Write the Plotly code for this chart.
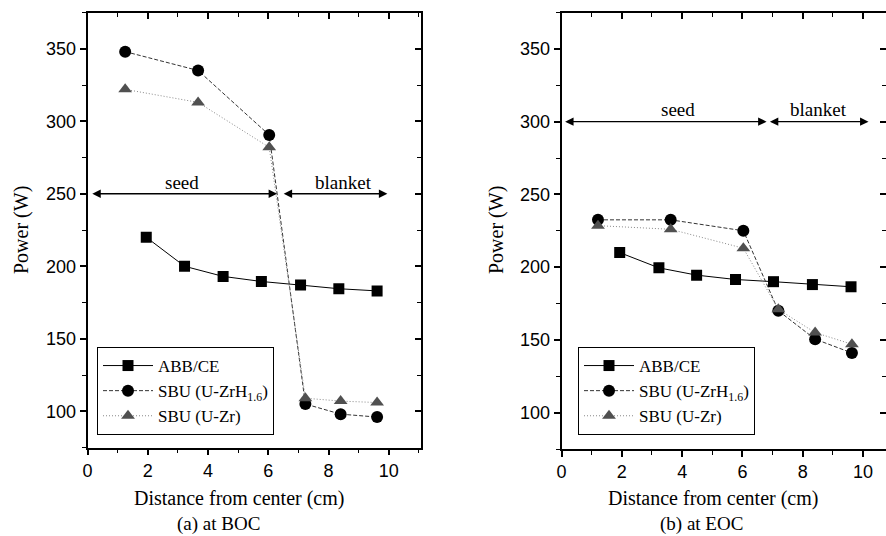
import plotly.graph_objects as go

# ---------------- data ----------------
# (a) at BOC
x_abb_boc = [1.95, 3.22, 4.50, 5.77, 7.07, 8.34, 9.61]
p_abb_boc = [220, 200, 193, 189.5, 187, 184.5, 183]
x_sbu_boc = [1.25, 3.67, 6.03, 7.23, 8.40, 9.61]
p_zrh_boc = [348, 335, 290.5, 105, 98, 96]
p_zr_boc = [322, 313, 282, 109, 107, 106]

# (b) at EOC
x_abb_eoc = [1.93, 3.23, 4.48, 5.77, 7.03, 8.32, 9.60]
p_abb_eoc = [210, 199.5, 194.5, 191.5, 190, 188, 186.5]
x_sbu_eoc = [1.21, 3.62, 6.03, 7.19, 8.41, 9.63]
p_zrh_eoc = [232.5, 232.5, 225, 170, 150.5, 141]
p_zr_eoc = [228.5, 226, 213, 171, 155, 147]

series_names = ["ABB/CE", "SBU (U-ZrH<sub>1.6</sub>)", "SBU (U-Zr)"]

# region arrows: [seed_start, seed_end, blanket_start, blanket_end], arrow level
region_boc = [0.11, 6.29, 6.46, 9.95]
region_boc_y = 250
region_boc_labels_x = [3.14, 8.5]
region_boc_label_y = 258
region_eoc = [0.07, 6.80, 6.86, 10.18]
region_eoc_y = 300
region_eoc_labels_x = [3.87, 8.52]
region_eoc_label_y = 308
region_labels = ["seed", "blanket"]

x_ticks = [0, 2, 4, 6, 8, 10]
y_ticks = [100, 150, 200, 250, 300, 350]

SERIF = "Liberation Serif"
SANS = "Liberation Sans"
W, H = 886, 536

fig = go.Figure()


def add_panel(xa, ya, legend, x_abb, p_abb, x_sbu, p_zrh, p_zr):
    fig.add_trace(go.Scatter(
        x=x_abb, y=p_abb, name=series_names[0], mode="lines+markers",
        line=dict(color="black", width=1),
        marker=dict(symbol="square", size=11, color="black"),
        xaxis=xa, yaxis=ya, legend=legend))
    fig.add_trace(go.Scatter(
        x=x_sbu, y=p_zrh, name=series_names[1], mode="lines+markers",
        line=dict(color="#333333", width=1, dash="4px,2px"),
        marker=dict(symbol="circle", size=12, color="black"),
        xaxis=xa, yaxis=ya, legend=legend))
    fig.add_trace(go.Scatter(
        x=x_sbu, y=p_zr, name=series_names[2], mode="lines+markers",
        line=dict(color="#888888", width=1, dash="1px,2px"),
        marker=dict(symbol="triangle-up", size=12, color="#505050"),
        xaxis=xa, yaxis=ya, legend=legend))


add_panel("x", "y", "legend", x_abb_boc, p_abb_boc, x_sbu_boc, p_zrh_boc, p_zr_boc)
add_panel("x2", "y2", "legend2", x_abb_eoc, p_abb_eoc, x_sbu_eoc, p_zrh_eoc, p_zr_eoc)

# dummy traces to activate mirror (inside-tick) axes
fig.add_trace(go.Scatter(x=[None], y=[None], xaxis="x3", yaxis="y3",
                         showlegend=False, hoverinfo="skip"))
fig.add_trace(go.Scatter(x=[None], y=[None], xaxis="x4", yaxis="y4",
                         showlegend=False, hoverinfo="skip"))


def px_x(p):
    return p / W


def px_y(p):
    return 1 - p / H


dom_x1 = [px_x(87.5), px_x(420.5)]
dom_x2 = [px_x(561.5), 1.0]
dom_y1 = [px_y(447.5), px_y(12.5)]
dom_y2 = [px_y(449.0), px_y(12.5)]

xr1 = [0, 11.05]
xr2 = [0, 10.76]
yr = [75, 375]

tickfont = dict(family=SANS, size=18, color="black")


def main_x(domain, rng, anchor):
    return dict(domain=domain, range=rng, anchor=anchor, showgrid=False, zeroline=False,
                showline=True, linecolor="black", linewidth=1.5, mirror=True,
                ticks="outside", ticklen=6, tickwidth=1.5, tickcolor="black",
                tickvals=x_ticks, tickfont=tickfont, automargin=False,
                minor=dict(dtick=1, tick0=0, ticks="outside", ticklen=4, tickwidth=1.2, tickcolor="black"))


def main_y(domain, rng, anchor):
    return dict(domain=domain, range=rng, anchor=anchor, showgrid=False, zeroline=False,
                showline=True, linecolor="black", linewidth=1.5, mirror=True,
                ticks="outside", ticklen=6, tickwidth=1.5, tickcolor="black",
                tickvals=y_ticks, tickfont=tickfont, automargin=False,
                minor=dict(dtick=25, tick0=75, ticks="outside", ticklen=4, tickwidth=1.2, tickcolor="black"))


def over_x(over, rng):
    return dict(overlaying=over, side="top", range=rng, showgrid=False, zeroline=False,
                showline=False, ticks="inside", ticklen=6, tickwidth=1.5, tickcolor="black",
                tickvals=x_ticks, showticklabels=False,
                minor=dict(dtick=1, tick0=0, ticks="inside", ticklen=4, tickwidth=1.2, tickcolor="black"))


def over_y(over, rng):
    return dict(overlaying=over, side="right", range=rng, showgrid=False, zeroline=False,
                showline=False, ticks="inside", ticklen=6, tickwidth=1.5, tickcolor="black",
                tickvals=y_ticks, showticklabels=False,
                minor=dict(dtick=25, tick0=75, ticks="inside", ticklen=4, tickwidth=1.2, tickcolor="black"))


annotations = []


def region_arrows(xa, ya, reg, yv, labels_x, ylab):
    for (a, b) in [(reg[0], reg[1]), (reg[2], reg[3])]:
        annotations.append(dict(
            x=b, y=yv, ax=a, ay=yv, xref=xa, yref=ya, axref=xa, ayref=ya,
            text="", showarrow=True, arrowhead=2, startarrowhead=2,
            arrowside="end+start", arrowsize=1.3, startarrowsize=1.3,
            arrowwidth=1.3, arrowcolor="black"))
    for lx, txt in zip(labels_x, region_labels):
        annotations.append(dict(x=lx, y=ylab, xref=xa, yref=ya,
                                text=txt, showarrow=False,
                                xanchor="center", yanchor="middle",
                                font=dict(family=SERIF, size=19, color="black")))


region_arrows("x", "y", region_boc, region_boc_y, region_boc_labels_x, region_boc_label_y)
region_arrows("x2", "y2", region_eoc, region_eoc_y, region_eoc_labels_x, region_eoc_label_y)

title_font = dict(family=SERIF, size=20, color="black")
for cx, text in [(239, "Distance from center (cm)"), (713, "Distance from center (cm)")]:
    annotations.append(dict(x=px_x(cx), y=px_y(498), xref="paper", yref="paper",
                            xanchor="center", yanchor="middle",
                            text=text, showarrow=False, font=title_font))
for cx, text in [(218, "(a) at BOC"), (701, "(b) at EOC")]:
    annotations.append(dict(x=px_x(cx), y=px_y(524), xref="paper", yref="paper",
                            xanchor="center", yanchor="middle",
                            text=text, showarrow=False, font=dict(title_font, size=19)))
for cx in [21, 496]:
    annotations.append(dict(x=px_x(cx), y=px_y(230), xref="paper", yref="paper",
                            xanchor="center", yanchor="middle",
                            text="Power (W)", textangle=-90, showarrow=False, font=title_font))

legend_style = dict(bgcolor="white", bordercolor="black", borderwidth=1,
                    font=dict(family=SERIF, size=17, color="black"),
                    xanchor="left", yanchor="top", tracegroupgap=0, itemwidth=50)

fig.update_layout(
    width=W, height=H,
    margin=dict(l=0, r=0, t=0, b=0, autoexpand=False),
    paper_bgcolor="white", plot_bgcolor="white",
    xaxis=main_x(dom_x1, xr1, "y"),
    yaxis=main_y(dom_y1, yr, "x"),
    xaxis2=main_x(dom_x2, xr2, "y2"),
    yaxis2=main_y(dom_y2, yr, "x2"),
    xaxis3=dict(over_x("x", xr1), anchor="y3"),
    yaxis3=dict(over_y("y", yr), anchor="x3"),
    xaxis4=dict(over_x("x2", xr2), anchor="y4"),
    yaxis4=dict(over_y("y2", yr), anchor="x4"),
    legend=dict(legend_style, x=px_x(97), y=px_y(347)),
    legend2=dict(legend_style, x=px_x(578), y=px_y(347)),
    annotations=annotations,
    showlegend=True,
)

fig.write_html(
    "out.html",
    config={"displayModeBar": False},
    post_script="document.body.style.margin='0';document.body.style.padding='0';"
                "document.body.style.overflow='hidden';",
)
